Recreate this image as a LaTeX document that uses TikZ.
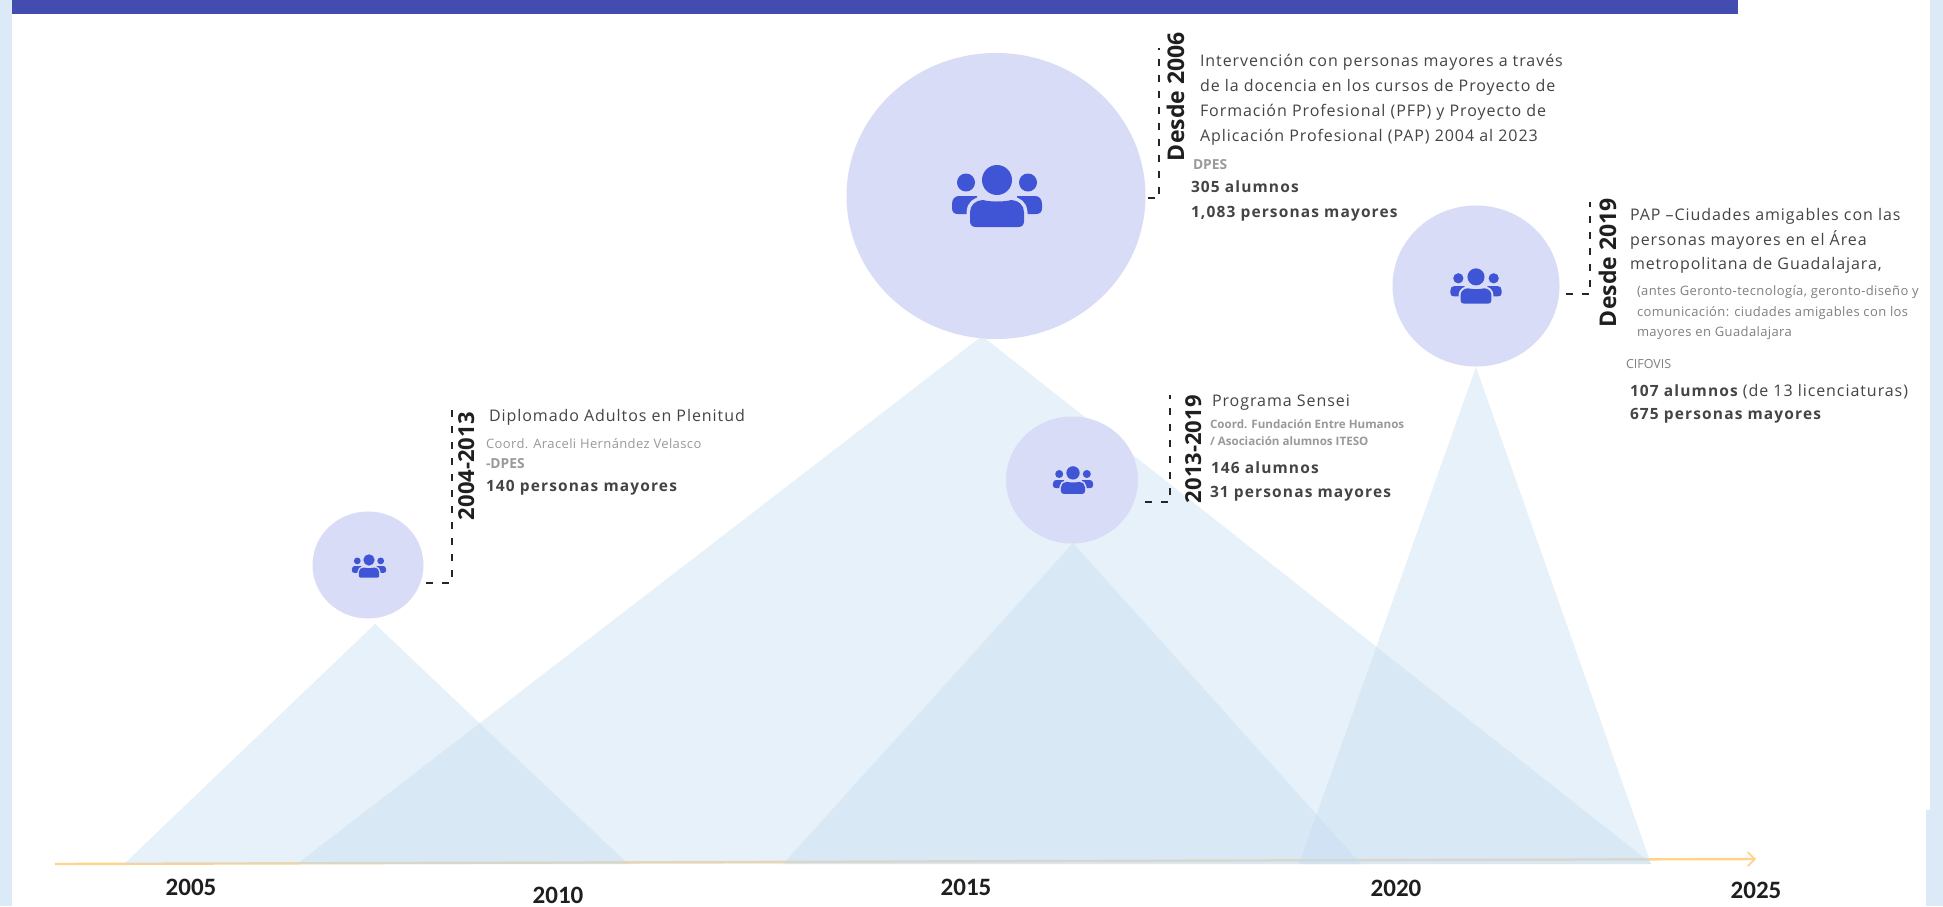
\documentclass[tikz,border=0pt]{standalone}
\usepackage{fontspec}
\setmainfont{Open Sans}
\newfontfamily\ls[LetterSpace=5.9]{Open Sans}
\newfontfamily\lb[LetterSpace=7.3]{Open Sans}
\newfontfamily\lss[LetterSpace=3]{Open Sans}
\newfontfamily\yr{Carlito}
\usetikzlibrary{shapes.geometric,arrows.meta}
\definecolor{pagebg}{HTML}{DCE9F7}
\definecolor{band}{HTML}{434DB0}
\definecolor{tri}{HTML}{C3DBF0}
\definecolor{disc}{HTML}{D9DCF7}
\definecolor{icon}{HTML}{3F55D6}
\definecolor{axisc}{HTML}{FFD48A}
\definecolor{txt}{HTML}{444444}
\definecolor{sub}{HTML}{999999}
\definecolor{subd}{HTML}{808080}
\tikzset{
  x=1pt,y=-1pt,
  tritop/.style={fill=tri,fill opacity=0.39},
  discnode/.style={ellipse,fill=disc,inner sep=0pt,outer sep=0pt},
  leader/.style={draw=black!85,line width=1.2pt,dash pattern=on 7pt off 9pt},
  lab/.style={anchor=base west,inner sep=0pt,outer sep=0pt},
  main/.style={lab,text=txt,font=\ls\fontsize{16}{16}\selectfont},
  stat/.style={lab,text=txt,font=\lb\bfseries\fontsize{15.5}{16}\selectfont},
  small/.style={lab,text=sub,font=\lss\fontsize{13}{13}\selectfont},
  smallb/.style={lab,text=sub,font=\bfseries\fontsize{11.6}{13}\selectfont},
  tag/.style={lab,text=sub,font=\bfseries\fontsize{13.8}{14}\selectfont},
  smalld/.style={lab,text=subd,font=\lss\fontsize{13}{13}\selectfont},
  rotlab/.style={rotate=90,anchor=base west,inner sep=0pt,outer sep=0pt,text=black!88,font=\bfseries\fontsize{#1}{24}\selectfont},
  year/.style={inner sep=0pt,outer sep=0pt,text=black!88,font=\yr\bfseries\fontsize{25}{25}\selectfont},
  pics/people/.style={code={
    \begin{scope}[scale=#1]
      \fill[icon] (0,-16) circle[radius=15];
      \fill[icon] (-31,-13.5) circle[radius=9];
      \fill[icon] (31,-13.5) circle[radius=9];
      \fill[icon] (-38,0) -- (-20,0) -- (-20,18) -- (-39,18) .. controls (-43,18) and (-45,16) .. (-45,12) -- (-45,8) .. controls (-45,3) and (-42,0) .. (-38,0) -- cycle;
      \fill[icon] (38,0) -- (20,0) -- (20,18) -- (39,18) .. controls (43,18) and (45,16) .. (45,12) -- (45,8) .. controls (45,3) and (42,0) .. (38,0) -- cycle;
      \draw[disc,line width=#1*7pt,line join=round] (-21,31) -- (21,31) .. controls (25,31) and (27,29) .. (27,25) -- (27,16) .. controls (27,9) and (21,4) .. (14,4) .. controls (8,6) and (-8,6) .. (-14,4) .. controls (-21,4) and (-27,9) .. (-27,16) -- (-27,25) .. controls (-27,29) and (-25,31) .. (-21,31) -- cycle;
      \fill[icon] (-21,31) -- (21,31) .. controls (25,31) and (27,29) .. (27,25) -- (27,16) .. controls (27,9) and (21,4) .. (14,4) .. controls (8,6) and (-8,6) .. (-14,4) .. controls (-21,4) and (-27,9) .. (-27,16) -- (-27,25) .. controls (-27,29) and (-25,31) .. (-21,31) -- cycle;
    \end{scope}
  }}
}
\begin{document}
\begin{tikzpicture}
\useasboundingbox (0,0) rectangle (1943,906);
% page
\fill[pagebg] (0,0) rectangle (1943,906);
\fill[white] (12,0) rectangle (1930,810);
\fill[white] (12,810) rectangle (1926,906);
\fill[band] (12,0) rectangle (1738,14);
% axis
\coordinate (axisstart) at (55,864);
\coordinate (axisend) at (1756,859);
\draw[axisc,line width=2.4pt,-{Straight Barb[length=7pt,width=14pt,line width=1.8pt]}] (axisstart) -- (axisend);
% triangles
\fill[tritop] (375,624) -- (124,864) -- (628,864) -- cycle;
\fill[tritop] (982,336) -- (297,864) -- (1652,864) -- cycle;
\fill[tritop] (1073,543) -- (783,864) -- (1361,864) -- cycle;
\fill[tritop] (1476,367) -- (1299,864) -- (1651,864) -- cycle;
% circles
\node[discnode,minimum width=299pt,minimum height=286pt] (c1) at (996,196) {};
\node[discnode,minimum width=167pt,minimum height=161pt] (c2) at (1476,286) {};
\node[discnode,minimum width=132pt,minimum height=127pt] (c3) at (1072,480) {};
\node[discnode,minimum width=111pt,minimum height=107pt] (c4) at (368,565) {};
% icons
\pic at (997,196) {people=1};
\pic at (1476,286) {people=0.57};
\pic at (1073,480) {people=0.445};
\pic at (369,566) {people=0.378};
% leaders
\coordinate (l1top) at (1159,48);
\coordinate (l1cor) at (1159,198);
\coordinate (l2top) at (1590,202);
\coordinate (l2cor) at (1590,294);
\coordinate (l3top) at (1170,395);
\coordinate (l3cor) at (1170,502);
\coordinate (l4top) at (452,407);
\coordinate (l4cor) at (452,583);
\draw[leader,shorten <=2pt] (c1.east |- l1cor) -- (l1cor) -- (l1top);
\draw[leader,shorten <=6pt] (c2.east |- l2cor) -- (l2cor) -- (l2top);
\draw[leader,shorten <=7pt] (c3.east |- l3cor) -- (l3cor) -- (l3top);
\draw[leader,shorten <=2.5pt] (c4.east |- l4cor) -- (l4cor) -- (l4top);
% rotated labels
\node[rotlab=23] (r1) at (1184,161) {Desde 2006};
\node[rotlab=23] (r2) at (1616,327) {Desde 2019};
\node[rotlab=22] (r3) at (1201,503) {2013-2019};
\node[rotlab=22] (r4) at (474,520) {2004-2013};
% block 1
\node[main] (a1) at (1200,66) {Intervención con personas mayores a través};
\node[main] (a2) at (1200,91) {de la docencia en los cursos de Proyecto de};
\node[main] (a3) at (1200,116) {Formación Profesional (PFP) y Proyecto de};
\node[main] (a4) at (1200,141) {Aplicación Profesional (PAP) 2004 al 2023};
\node[tag] (a5) at (1193,169) {DPES};
\node[stat] (a6) at (1191,192) {305 alumnos};
\node[stat] (a7) at (1191,217) {1,083 personas mayores};
% block 2
\node[main] (b1) at (1630,220) {PAP –Ciudades amigables con las};
\node[main] (b2) at (1630,245) {personas mayores en el Área};
\node[main] (b3) at (1630,269) {metropolitana de Guadalajara,};
\node[smalld] (b4) at (1637,295) {(antes Geronto-tecnología, geronto-diseño y};
\node[smalld] (b5) at (1637,316) {comunicación: ciudades amigables con los};
\node[smalld] (b6) at (1637,336) {mayores en Guadalajara};
\node[lab,text=subd,font=\fontsize{12.5}{13}\selectfont] (b7) at (1626,368) {CIFOVIS};
\node[stat] (b8) at (1630,396) {107 alumnos \normalfont\ls\fontsize{16}{16}\selectfont(de 13 licenciaturas)};
\node[stat] (b9) at (1630,419) {675 personas mayores};
% block 3
\node[main] (d1) at (1212,406) {Programa Sensei};
\node[smallb] (d2) at (1210,428) {Coord. Fundación Entre Humanos};
\node[smallb] (d3) at (1210,445) {/ Asociación alumnos ITESO};
\node[stat] (d4) at (1211,473) {146 alumnos};
\node[stat] (d5) at (1210,497) {31 personas mayores};
% block 4
\node[main] (e1) at (489,421) {Diplomado Adultos en Plenitud};
\node[small] (e2) at (486,448) {Coord. Araceli Hernández Velasco};
\node[tag] (e3) at (486,468) {-DPES};
\node[stat] (e4) at (486,491) {140 personas mayores};
% years
\node[year] (y1) at (191,887) {2005};
\node[year] (y2) at (558,895) {2010};
\node[year] (y3) at (966,887) {2015};
\node[year] (y4) at (1396,888) {2020};
\node[year] (y5) at (1756,890) {2025};
\end{tikzpicture}
\end{document}
